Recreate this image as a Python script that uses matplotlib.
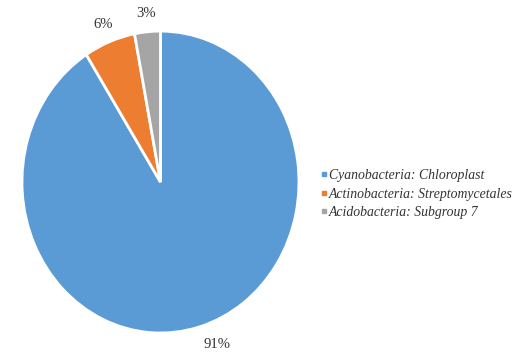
import matplotlib.pyplot as plt
from matplotlib.lines import Line2D

# share of reads per taxon
taxa = ['Cyanobacteria: Chloroplast',
        'Actinobacteria: Streptomycetales',
        'Acidobacteria: Subgroup 7']
shares = [91, 6, 3]
colors = ['#5B9BD5', '#ED7D31', '#A5A5A5']


def main():
    plt.rcParams['font.family'] = ['Liberation Serif', 'DejaVu Serif']

    fig = plt.figure(figsize=(5.27, 3.56), dpi=100)
    ax = fig.add_axes([0.0417, 0.0646, 0.5256, 0.848])

    wedges, texts = ax.pie(shares, labels=[f'{v}%' for v in shares],
                           colors=colors, startangle=90, counterclock=False,
                           labeldistance=1.12,
                           wedgeprops=dict(edgecolor='white', linewidth=2),
                           textprops=dict(fontsize=10.5, color='#333333'))
    for t in texts:
        x, y = t.get_position()
        t.set_ha('left' if x > 0.2 else 'center')
        t.set_va('center')
        t.set_clip_on(False)
    ax.set_aspect('auto')
    ax.set_xlim(-1, 1)
    ax.set_ylim(-1, 1)

    handles = [Line2D([], [], marker='s', linestyle='none', markersize=3.5,
                      color=c) for c in colors]
    fig.legend(handles, taxa, loc='center left', bbox_to_anchor=(0.584, 0.455),
               frameon=False, handlelength=0.5, handletextpad=0.15,
               labelspacing=0.38, prop=dict(size=9.9, style='italic'),
               labelcolor='#333333')

    fig.savefig('out.png', dpi=100)


if __name__ == "__main__":
    main()
